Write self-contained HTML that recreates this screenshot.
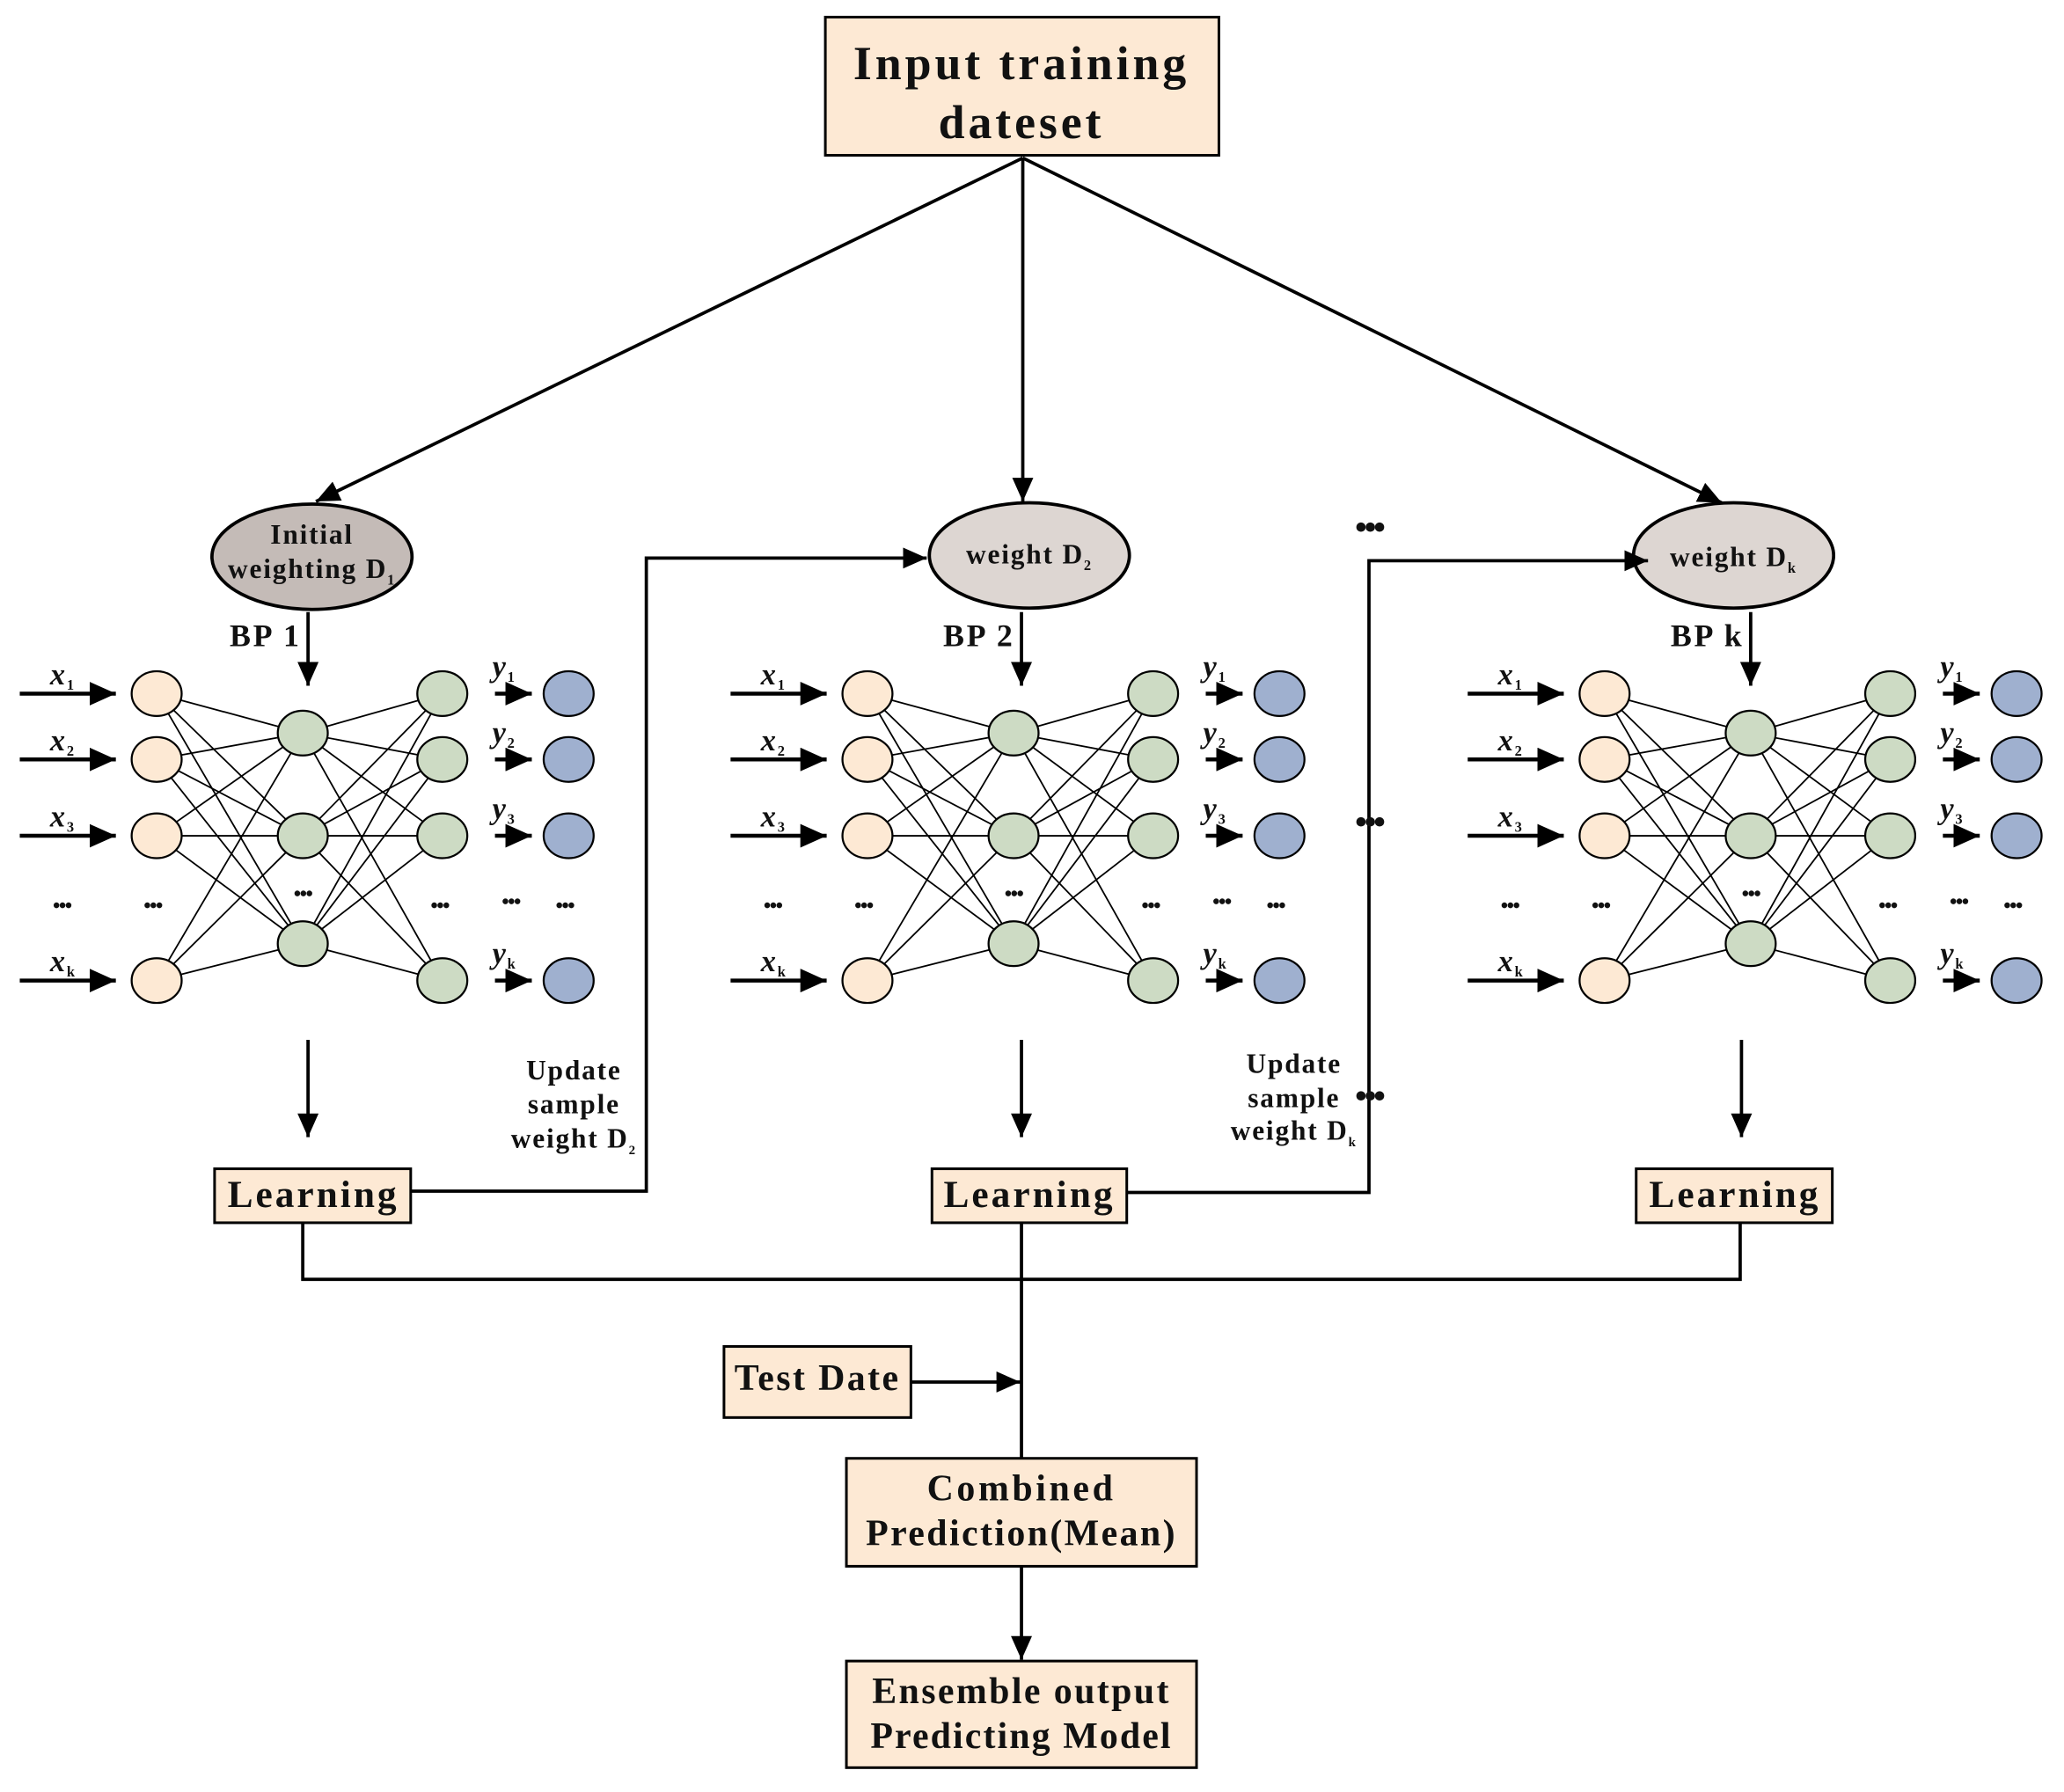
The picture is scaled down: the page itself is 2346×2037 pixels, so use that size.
<!DOCTYPE html>
<html><head><meta charset="utf-8"><style>
html,body{margin:0;padding:0;background:#fff;}
svg{display:block;}
text{font-family:"Liberation Serif",serif;font-weight:bold;fill:#111;letter-spacing:1.2px;}
</style></head><body>
<svg id="s" width="2346" height="2037" viewBox="0 0 1568 1361.5" xmlns="http://www.w3.org/2000/svg">
<defs>
<marker id="b" markerWidth="18" markerHeight="16" refX="18" refY="8" orient="auto" markerUnits="userSpaceOnUse"><path d="M0,0 L18,8 L0,16z" fill="#000"/></marker>
<marker id="c" markerWidth="20" markerHeight="18" refX="20" refY="9" orient="auto" markerUnits="userSpaceOnUse"><path d="M0,0 L20,9 L0,18z" fill="#000"/></marker>
</defs>
<!-- top box -->
<rect x="627" y="13" width="299" height="105" fill="#fde9d4" stroke="#000" stroke-width="2"/>
<text x="776" y="60" font-size="36" text-anchor="middle" style="letter-spacing:2.6px">Input training</text>
<text x="776" y="105" font-size="36" text-anchor="middle" style="letter-spacing:2.6px">dateset</text>
<g stroke="#000" stroke-width="2.5" fill="none">
<line x1="777" y1="120" x2="240" y2="381" marker-end="url(#b)"/>
<line x1="777" y1="120" x2="777" y2="381" marker-end="url(#b)"/>
<line x1="777" y1="120" x2="1308" y2="382" marker-end="url(#b)"/>
</g>
<ellipse cx="237" cy="423" rx="76" ry="40" fill="#c4bbb7" stroke="#000" stroke-width="2.5"/>
<text x="237" y="413" font-size="21" text-anchor="middle">Initial</text>
<text x="237" y="439" font-size="21" text-anchor="middle">weighting D<tspan font-size="11" dy="5">1</tspan></text>
<ellipse cx="782" cy="422" rx="76" ry="40" fill="#ddd6d2" stroke="#000" stroke-width="2.5"/>
<text x="782" y="428" font-size="21" text-anchor="middle">weight D<tspan font-size="11" dy="5">2</tspan></text>
<ellipse cx="1317" cy="422" rx="76" ry="40" fill="#ddd6d2" stroke="#000" stroke-width="2.5"/>
<text x="1317" y="430" font-size="21" text-anchor="middle">weight D<tspan font-size="11" dy="5">k</tspan></text>
<g id="nets"></g>
<g stroke="#000" stroke-width="2.5" fill="none">
<polyline points="312,905 491,905 491,424 704,424" marker-end="url(#b)"/>
<polyline points="856,906 1040,906 1040,426 1252,426" marker-end="url(#b)"/>
<polyline points="230,929 230,972 1322,972 1322,929"/>
<line x1="776" y1="929" x2="776" y2="1108"/>
<line x1="692" y1="1050" x2="775" y2="1050" marker-end="url(#b)"/>
<line x1="776" y1="1190" x2="776" y2="1261" marker-end="url(#b)"/>
<line x1="234" y1="790" x2="234" y2="864" marker-end="url(#b)"/>
<line x1="776" y1="790" x2="776" y2="864" marker-end="url(#b)"/>
<line x1="1323" y1="790" x2="1323" y2="864" marker-end="url(#b)"/>
</g>
<text x="436" y="820" font-size="21" text-anchor="middle">Update</text>
<text x="436" y="846" font-size="21" text-anchor="middle">sample</text>
<text x="436" y="872" font-size="21" text-anchor="middle">weight D<tspan font-size="10" dy="5">2</tspan></text>
<text x="983" y="815" font-size="21" text-anchor="middle">Update</text>
<text x="983" y="841" font-size="21" text-anchor="middle">sample</text>
<text x="983" y="866" font-size="21" text-anchor="middle">weight D<tspan font-size="10" dy="5">k</tspan></text>
<text x="1040" y="409" font-size="26" text-anchor="middle" style="letter-spacing:-2px">•••</text>
<text x="1040" y="633" font-size="26" text-anchor="middle" style="letter-spacing:-2px">•••</text>
<text x="1040" y="841" font-size="26" text-anchor="middle" style="letter-spacing:-2px">•••</text>
<g stroke="#000" stroke-width="2" fill="#fde9d4">
<rect x="163" y="888" width="149" height="41"/>
<rect x="708" y="888" width="148" height="41"/>
<rect x="1243" y="888" width="149" height="41"/>
<rect x="550" y="1023" width="142" height="54"/>
<rect x="643" y="1108" width="266" height="82"/>
<rect x="643" y="1262" width="266" height="81"/>
</g>
<text x="238" y="917" font-size="29" text-anchor="middle" style="letter-spacing:2px">Learning</text>
<text x="782" y="917" font-size="29" text-anchor="middle" style="letter-spacing:2px">Learning</text>
<text x="1318" y="917" font-size="29" text-anchor="middle" style="letter-spacing:2px">Learning</text>
<text x="621" y="1056" font-size="28" text-anchor="middle" style="letter-spacing:1.6px">Test Date</text>
<text x="776" y="1140" font-size="28" text-anchor="middle" style="letter-spacing:2.4px">Combined</text>
<text x="776" y="1174" font-size="28" text-anchor="middle" style="letter-spacing:1.6px">Prediction(Mean)</text>
<text x="776" y="1294" font-size="28" text-anchor="middle" style="letter-spacing:1.6px">Ensemble output</text>
<text x="776" y="1328" font-size="28" text-anchor="middle" style="letter-spacing:1.4px">Predicting Model</text>
</svg>
<script>
var NS="http://www.w3.org/2000/svg",g=document.getElementById("nets");
function el(t,a,txt){var e=document.createElementNS(NS,t);for(var k in a)e.setAttribute(k,a[k]);if(txt!=null)e.textContent=txt;g.appendChild(e);return e;}
var offs=[0,540,1100],names=["BP 1","BP 2","BP k"];
var io=[527,577,635,745],hid=[557,635,717],subs=["1","2","3","k"];
offs.forEach(function(o,n){
  var bpx=[234,776,1330][n];
  el("line",{x1:bpx,y1:465,x2:bpx,y2:521,stroke:"#000","stroke-width":2.5,"marker-end":"url(#b)"});
  el("text",{x:bpx-5,y:491,"font-size":24,"text-anchor":"end",style:"letter-spacing:1.8px"},names[n]);
  io.forEach(function(y){hid.forEach(function(h){
    el("line",{x1:119+o,y1:y,x2:230+o,y2:h,stroke:"#000","stroke-width":1.2});
    el("line",{x1:230+o,y1:h,x2:336+o,y2:y,stroke:"#000","stroke-width":1.2});
  });});
  io.forEach(function(y,i){
    el("line",{x1:15+o,y1:y,x2:88+o,y2:y,stroke:"#000","stroke-width":3,"marker-end":"url(#c)"});
    var t=el("text",{x:38+o,y:y-7,"font-size":23,"font-style":"italic"},"x");
    var s=document.createElementNS(NS,"tspan");s.setAttribute("font-size","11");s.setAttribute("dy","4");s.setAttribute("font-style","normal");s.textContent=subs[i];t.appendChild(s);
    el("line",{x1:376+o,y1:y,x2:404+o,y2:y,stroke:"#000","stroke-width":3,"marker-end":"url(#c)"});
    var t2=el("text",{x:374+o,y:y-13,"font-size":23,"font-style":"italic"},"y");
    var s2=document.createElementNS(NS,"tspan");s2.setAttribute("font-size","11");s2.setAttribute("dy","4");s2.setAttribute("font-style","normal");s2.textContent=subs[i];t2.appendChild(s2);
    el("ellipse",{cx:119+o,cy:y,rx:19,ry:17,fill:"#fde9d4",stroke:"#000","stroke-width":1.5});
    el("ellipse",{cx:336+o,cy:y,rx:19,ry:17,fill:"#cddbc4",stroke:"#000","stroke-width":1.5});
    el("ellipse",{cx:432+o,cy:y,rx:19,ry:17,fill:"#9fb0cf",stroke:"#000","stroke-width":1.5});
  });
  hid.forEach(function(h){el("ellipse",{cx:230+o,cy:h,rx:19,ry:17,fill:"#cddbc4",stroke:"#000","stroke-width":1.5});});
  [[47,693],[116,693],[230,684],[334,693],[388,690],[429,693]].forEach(function(p){
    el("text",{x:p[0]+o,y:p[1],"font-size":16,"text-anchor":"middle",style:"letter-spacing:-1px"},"•••");
  });
});
</script>
</body></html>
